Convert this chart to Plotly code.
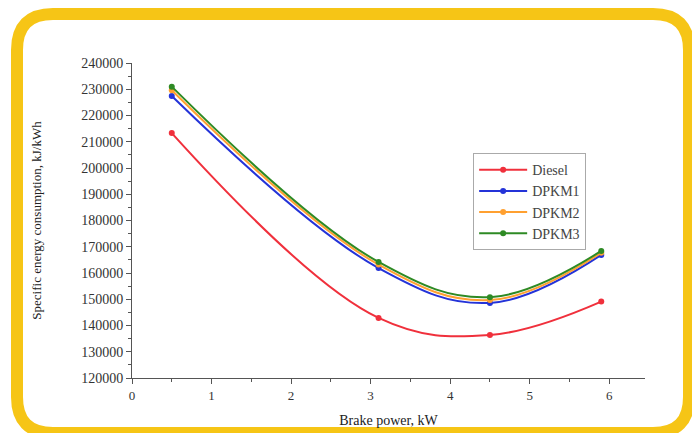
import plotly.graph_objects as go

brake_power = [0.5, 3.1, 4.5, 5.9]
diesel = [213300, 142900, 136400, 149100]
dpkm1 = [227400, 161900, 148600, 166900]
dpkm2 = [229600, 163200, 149700, 167700]
dpkm3 = [231000, 164200, 150800, 168400]

series = [
    ("Diesel", diesel, "#F0303C"),
    ("DPKM1", dpkm1, "#2433D8"),
    ("DPKM2", dpkm2, "#FFA030"),
    ("DPKM3", dpkm3, "#2E8A24"),
]

W, H = 692, 433
L, R, T, B = 132, 47, 63, 55
pw, ph = W - L - R, H - T - B

fig = go.Figure()
for name, vals, col in series:
    fig.add_trace(go.Scatter(
        x=brake_power, y=vals, name=name, mode="lines+markers",
        line=dict(color=col, width=2, shape="spline", smoothing=1.1),
        marker=dict(color=col, size=6, symbol="circle"),
    ))

def px(x):
    return (x - L) / pw

def py(y):
    return (H - B - y) / ph

# rounded yellow frame (pixel geometry converted to paper coords)
x0, y0, x1, y1, r = 17, 14, 689, 433, 36
path = (
    f"M {px(x0 + r)} {py(y0)} L {px(x1 - r)} {py(y0)} "
    f"Q {px(x1)} {py(y0)} {px(x1)} {py(y0 + r)} "
    f"L {px(x1)} {py(y1 - r)} Q {px(x1)} {py(y1)} {px(x1 - r)} {py(y1)} "
    f"L {px(x0 + r)} {py(y1)} Q {px(x0)} {py(y1)} {px(x0)} {py(y1 - r)} "
    f"L {px(x0)} {py(y0 + r)} Q {px(x0)} {py(y0)} {px(x0 + r)} {py(y0)} Z"
)
fig.add_shape(type="path", path=path, xref="paper", yref="paper",
              line=dict(color="#F6C516", width=12), layer="below")

font = "Liberation Serif, Times New Roman, serif"
fig.update_layout(
    width=W, height=H,
    margin=dict(l=L, r=R, t=T, b=B, autoexpand=False),
    paper_bgcolor="white", plot_bgcolor="white",
    font=dict(family=font, size=12, color="#333333"),
    showlegend=True,
    legend=dict(x=0.665, y=0.714, xanchor="left", yanchor="top",
                bordercolor="#AAAAAA", borderwidth=1, bgcolor="white",
                font=dict(family=font, size=14, color="#444444"),
                itemwidth=48, tracegroupgap=0),
)
fig.update_xaxes(
    range=[0, 6.45], tickvals=[0, 1, 2, 3, 4, 5, 6], automargin=False,
    showgrid=False, zeroline=False, showline=True, linecolor="#555555", linewidth=1,
    ticks="outside", ticklen=5, tickcolor="#555555",
    minor=dict(tickvals=[0.5, 1.5, 2.5, 3.5, 4.5, 5.5], ticks="outside", ticklen=3, tickcolor="#555555"),
    tickfont=dict(size=13),
    title=dict(text="Brake power, kW", font=dict(size=14, color="#222222"), standoff=13),
)
fig.update_yaxes(
    range=[120000, 240000], tickvals=list(range(120000, 240001, 10000)),
    tickformat="d", automargin=False,
    showgrid=False, zeroline=False, showline=True, linecolor="#555555", linewidth=1,
    ticks="outside", ticklen=5, tickcolor="#555555",
    minor=dict(tickvals=list(range(125000, 240000, 10000)), ticks="outside", ticklen=3, tickcolor="#555555"),
    tickfont=dict(size=14),
    title=dict(text="Specific energy consumption, kJ/kWh", font=dict(size=13, color="#222222"), standoff=36),
)

fig.write_html("out.html")
